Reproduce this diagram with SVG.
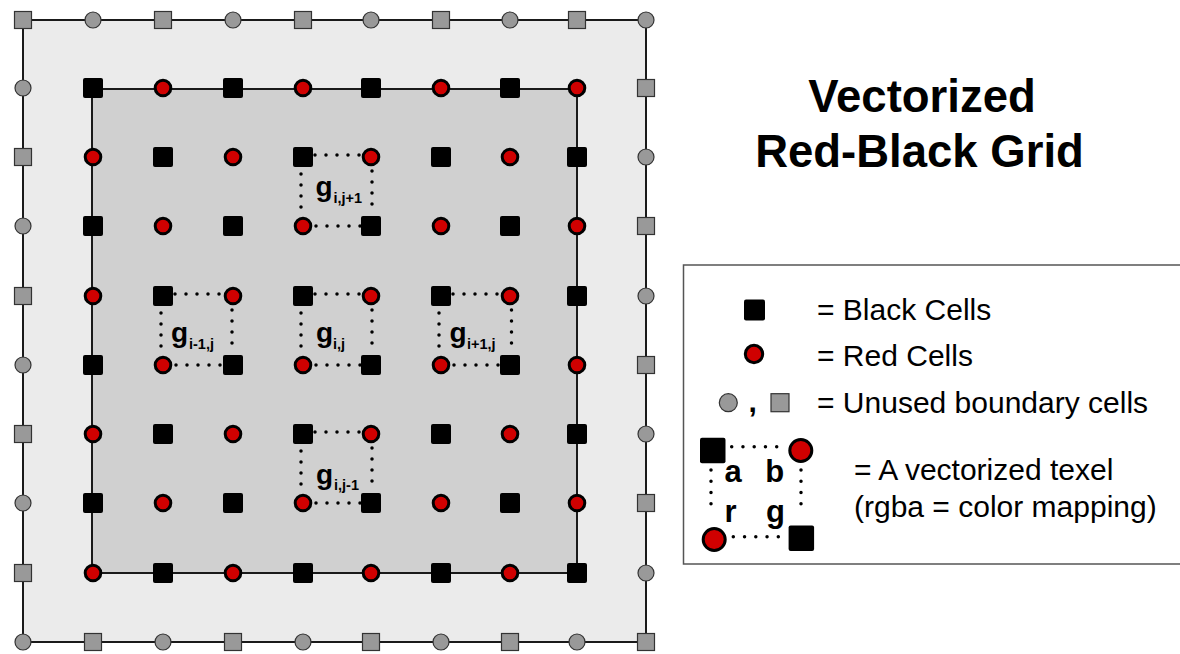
<svg xmlns="http://www.w3.org/2000/svg" width="1180" height="654" viewBox="0 0 1180 654">
<style>
.gs,.gc{fill:#999;stroke:#333;stroke-width:1.2}
.bk{fill:#000}
.rd{fill:#d00000;stroke:#000;stroke-width:3}
.dot{fill:none;stroke:#000;stroke-width:3.5;stroke-linecap:round;stroke-dasharray:0 11}
.dot2{fill:none;stroke:#000;stroke-width:3.5;stroke-linecap:round;stroke-dasharray:0 11.25}
.g{font-family:"Liberation Sans",Arial,sans-serif;font-weight:bold;font-size:28px;fill:#000}
.sub{font-family:"Liberation Sans",Arial,sans-serif;font-weight:bold;font-size:14.5px;fill:#000}
.lt{font-family:"Liberation Sans",Arial,sans-serif;font-size:30px;fill:#000}
.lb{font-family:"Liberation Sans",Arial,sans-serif;font-weight:bold;font-size:31px;fill:#000}
.title{font-family:"Liberation Sans",Arial,sans-serif;font-weight:bold;font-size:45.5px;fill:#000;text-anchor:middle}
</style>
<rect width="1180" height="654" fill="#fff"/>
<g id="connectors">
<rect x="23" y="20" width="623" height="622" fill="#ebebeb" stroke="#1a1a1a" stroke-width="2"/>
<rect x="92" y="89" width="485" height="484" fill="#d0d0d0" stroke="#1a1a1a" stroke-width="2"/>
<path class="dot" d="M315,155H360M316,226H361M301,174V208M372,171V215"/>
<path class="dot" d="M175,294H220M176,365H221M161,313V347M232,310V354"/>
<path class="dot" d="M315,294H360M316,365H361M301,313V347M372,310V354"/>
<path class="dot" d="M453,294H498M454,365H499M439,313V347M511.5,310V354"/>
<path class="dot" d="M315,432H360M316,503H361M301,451V485M372,448V492"/>
</g>
<g id="boundary">
<g id="b00"><rect class="gs" x="14.5" y="11.5" width="17" height="17"/></g>
<g id="b01"><circle class="gc" cx="93" cy="20" r="8"/></g>
<g id="b02"><rect class="gs" x="154.5" y="11.5" width="17" height="17"/></g>
<g id="b03"><circle class="gc" cx="233" cy="20" r="8"/></g>
<g id="b04"><rect class="gs" x="294.5" y="11.5" width="17" height="17"/></g>
<g id="b05"><circle class="gc" cx="371" cy="20" r="8"/></g>
<g id="b06"><rect class="gs" x="432.5" y="11.5" width="17" height="17"/></g>
<g id="b07"><circle class="gc" cx="510" cy="20" r="8"/></g>
<g id="b08"><rect class="gs" x="568.5" y="11.5" width="17" height="17"/></g>
<g id="b09"><circle class="gc" cx="646" cy="20" r="8"/></g>
<g id="b90"><circle class="gc" cx="23" cy="642" r="8"/></g>
<g id="b91"><rect class="gs" x="84.5" y="633.5" width="17" height="17"/></g>
<g id="b92"><circle class="gc" cx="163" cy="642" r="8"/></g>
<g id="b93"><rect class="gs" x="224.5" y="633.5" width="17" height="17"/></g>
<g id="b94"><circle class="gc" cx="303" cy="642" r="8"/></g>
<g id="b95"><rect class="gs" x="362.5" y="633.5" width="17" height="17"/></g>
<g id="b96"><circle class="gc" cx="441" cy="642" r="8"/></g>
<g id="b97"><rect class="gs" x="501.5" y="633.5" width="17" height="17"/></g>
<g id="b98"><circle class="gc" cx="577" cy="642" r="8"/></g>
<g id="b99"><rect class="gs" x="637.5" y="633.5" width="17" height="17"/></g>
<g id="b10"><circle class="gc" cx="23" cy="88" r="8"/></g>
<g id="b20"><rect class="gs" x="14.5" y="148.5" width="17" height="17"/></g>
<g id="b30"><circle class="gc" cx="23" cy="226" r="8"/></g>
<g id="b40"><rect class="gs" x="14.5" y="287.5" width="17" height="17"/></g>
<g id="b50"><circle class="gc" cx="23" cy="365" r="8"/></g>
<g id="b60"><rect class="gs" x="14.5" y="425.5" width="17" height="17"/></g>
<g id="b70"><circle class="gc" cx="23" cy="503" r="8"/></g>
<g id="b80"><rect class="gs" x="14.5" y="564.5" width="17" height="17"/></g>
<g id="b19"><rect class="gs" x="637.5" y="79.5" width="17" height="17"/></g>
<g id="b29"><circle class="gc" cx="646" cy="157" r="8"/></g>
<g id="b39"><rect class="gs" x="637.5" y="217.5" width="17" height="17"/></g>
<g id="b49"><circle class="gc" cx="646" cy="296" r="8"/></g>
<g id="b59"><rect class="gs" x="637.5" y="356.5" width="17" height="17"/></g>
<g id="b69"><circle class="gc" cx="646" cy="434" r="8"/></g>
<g id="b79"><rect class="gs" x="637.5" y="494.5" width="17" height="17"/></g>
<g id="b89"><circle class="gc" cx="646" cy="573" r="8"/></g>
</g>
<g id="cells">
<g id="c11"><rect class="bk" x="83" y="78" width="20" height="20" rx="2"/></g>
<g id="c12"><circle class="rd" cx="163" cy="88" r="7.8"/></g>
<g id="c13"><rect class="bk" x="223" y="78" width="20" height="20" rx="2"/></g>
<g id="c14"><circle class="rd" cx="303" cy="88" r="7.8"/></g>
<g id="c15"><rect class="bk" x="361" y="78" width="20" height="20" rx="2"/></g>
<g id="c16"><circle class="rd" cx="441" cy="88" r="7.8"/></g>
<g id="c17"><rect class="bk" x="500" y="78" width="20" height="20" rx="2"/></g>
<g id="c18"><circle class="rd" cx="577" cy="88" r="7.8"/></g>
<g id="c21"><circle class="rd" cx="93" cy="157" r="7.8"/></g>
<g id="c22"><rect class="bk" x="153" y="147" width="20" height="20" rx="2"/></g>
<g id="c23"><circle class="rd" cx="233" cy="157" r="7.8"/></g>
<g id="c24"><rect class="bk" x="293" y="147" width="20" height="20" rx="2"/></g>
<g id="c25"><circle class="rd" cx="371" cy="157" r="7.8"/></g>
<g id="c26"><rect class="bk" x="431" y="147" width="20" height="20" rx="2"/></g>
<g id="c27"><circle class="rd" cx="510" cy="157" r="7.8"/></g>
<g id="c28"><rect class="bk" x="567" y="147" width="20" height="20" rx="2"/></g>
<g id="c31"><rect class="bk" x="83" y="216" width="20" height="20" rx="2"/></g>
<g id="c32"><circle class="rd" cx="163" cy="226" r="7.8"/></g>
<g id="c33"><rect class="bk" x="223" y="216" width="20" height="20" rx="2"/></g>
<g id="c34"><circle class="rd" cx="303" cy="226" r="7.8"/></g>
<g id="c35"><rect class="bk" x="361" y="216" width="20" height="20" rx="2"/></g>
<g id="c36"><circle class="rd" cx="441" cy="226" r="7.8"/></g>
<g id="c37"><rect class="bk" x="500" y="216" width="20" height="20" rx="2"/></g>
<g id="c38"><circle class="rd" cx="577" cy="226" r="7.8"/></g>
<g id="c41"><circle class="rd" cx="93" cy="296" r="7.8"/></g>
<g id="c42"><rect class="bk" x="153" y="286" width="20" height="20" rx="2"/></g>
<g id="c43"><circle class="rd" cx="233" cy="296" r="7.8"/></g>
<g id="c44"><rect class="bk" x="293" y="286" width="20" height="20" rx="2"/></g>
<g id="c45"><circle class="rd" cx="371" cy="296" r="7.8"/></g>
<g id="c46"><rect class="bk" x="431" y="286" width="20" height="20" rx="2"/></g>
<g id="c47"><circle class="rd" cx="510" cy="296" r="7.8"/></g>
<g id="c48"><rect class="bk" x="567" y="286" width="20" height="20" rx="2"/></g>
<g id="c51"><rect class="bk" x="83" y="355" width="20" height="20" rx="2"/></g>
<g id="c52"><circle class="rd" cx="163" cy="365" r="7.8"/></g>
<g id="c53"><rect class="bk" x="223" y="355" width="20" height="20" rx="2"/></g>
<g id="c54"><circle class="rd" cx="303" cy="365" r="7.8"/></g>
<g id="c55"><rect class="bk" x="361" y="355" width="20" height="20" rx="2"/></g>
<g id="c56"><circle class="rd" cx="441" cy="365" r="7.8"/></g>
<g id="c57"><rect class="bk" x="500" y="355" width="20" height="20" rx="2"/></g>
<g id="c58"><circle class="rd" cx="577" cy="365" r="7.8"/></g>
<g id="c61"><circle class="rd" cx="93" cy="434" r="7.8"/></g>
<g id="c62"><rect class="bk" x="153" y="424" width="20" height="20" rx="2"/></g>
<g id="c63"><circle class="rd" cx="233" cy="434" r="7.8"/></g>
<g id="c64"><rect class="bk" x="293" y="424" width="20" height="20" rx="2"/></g>
<g id="c65"><circle class="rd" cx="371" cy="434" r="7.8"/></g>
<g id="c66"><rect class="bk" x="431" y="424" width="20" height="20" rx="2"/></g>
<g id="c67"><circle class="rd" cx="510" cy="434" r="7.8"/></g>
<g id="c68"><rect class="bk" x="567" y="424" width="20" height="20" rx="2"/></g>
<g id="c71"><rect class="bk" x="83" y="493" width="20" height="20" rx="2"/></g>
<g id="c72"><circle class="rd" cx="163" cy="503" r="7.8"/></g>
<g id="c73"><rect class="bk" x="223" y="493" width="20" height="20" rx="2"/></g>
<g id="c74"><circle class="rd" cx="303" cy="503" r="7.8"/></g>
<g id="c75"><rect class="bk" x="361" y="493" width="20" height="20" rx="2"/></g>
<g id="c76"><circle class="rd" cx="441" cy="503" r="7.8"/></g>
<g id="c77"><rect class="bk" x="500" y="493" width="20" height="20" rx="2"/></g>
<g id="c78"><circle class="rd" cx="577" cy="503" r="7.8"/></g>
<g id="c81"><circle class="rd" cx="93" cy="573" r="7.8"/></g>
<g id="c82"><rect class="bk" x="153" y="563" width="20" height="20" rx="2"/></g>
<g id="c83"><circle class="rd" cx="233" cy="573" r="7.8"/></g>
<g id="c84"><rect class="bk" x="293" y="563" width="20" height="20" rx="2"/></g>
<g id="c85"><circle class="rd" cx="371" cy="573" r="7.8"/></g>
<g id="c86"><rect class="bk" x="431" y="563" width="20" height="20" rx="2"/></g>
<g id="c87"><circle class="rd" cx="510" cy="573" r="7.8"/></g>
<g id="c88"><rect class="bk" x="567" y="563" width="20" height="20" rx="2"/></g>
</g>
<g id="labels">
<g id="g-ijp1"><text class="g" x="315.5" y="195.5">g</text><text class="sub" x="333.5" y="203">i,j+1</text></g>
<g id="g-im1j"><text class="g" x="171" y="342">g</text><text class="sub" x="189" y="348.5">i-1,j</text></g>
<g id="g-ij"><text class="g" x="316" y="342">g</text><text class="sub" x="333" y="348.5">i,j</text></g>
<g id="g-ip1j"><text class="g" x="449.5" y="342">g</text><text class="sub" x="467" y="348.5">i+1,j</text></g>
<g id="g-ijm1"><text class="g" x="316" y="484">g</text><text class="sub" x="334" y="489.5">i,j-1</text></g>
</g>
<g id="title">
<text class="title" x="922" y="111.5">Vectorized</text>
<text class="title" x="919.5" y="166.5">Red-Black Grid</text>
</g>
<g id="legend">
<rect x="683.5" y="265" width="520" height="299" fill="#fff" stroke="#555" stroke-width="1.5"/>
<g id="leg-black"><rect class="bk" x="744" y="299.5" width="21" height="21" rx="2"/><text class="lt" x="817" y="320">= Black Cells</text></g>
<g id="leg-red"><circle class="rd" cx="754" cy="354" r="8.7"/><text class="lt" x="817" y="366">= Red Cells</text></g>
<g id="leg-unused"><circle class="gc" cx="728.3" cy="402.7" r="9"/><text class="lb" x="748.5" y="412" style="font-size:30px">,</text><rect class="gs" x="771" y="393.7" width="18" height="18"/><text class="lt" x="817" y="412.7">= Unused boundary cells</text></g>
<g id="leg-texel">
<path class="dot2" d="M731.7,446.7H777M733.3,536.7H778.6M711,470V515M801,470V515"/>
<rect class="bk" x="700" y="437.7" width="25.5" height="25.5" rx="2"/>
<circle class="rd" cx="800.8" cy="450.5" r="11"/>
<circle class="rd" cx="714.2" cy="539.5" r="11"/>
<rect class="bk" x="788.6" y="525.6" width="25.5" height="25.5" rx="2"/>
<text class="lb" x="724.5" y="481.7">a</text>
<text class="lb" x="765.3" y="481.7">b</text>
<text class="lb" x="724.5" y="521.7">r</text>
<text class="lb" x="766" y="521.7">g</text>
<text class="lt" x="854" y="480">= A vectorized texel</text>
<text class="lt" x="854" y="517">(rgba = color mapping)</text>
</g>
</g>
</svg>
